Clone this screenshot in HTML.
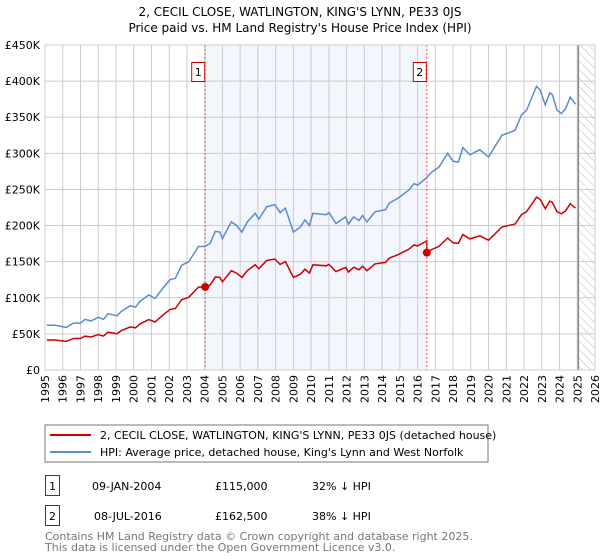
<!DOCTYPE html>
<html><head><meta charset="utf-8"><style>
body{margin:0;background:#fff;font-family:"DejaVu Sans","Liberation Sans",sans-serif;}
svg{display:block}
</style></head><body>
<svg id="chart" width="600" height="560" xmlns="http://www.w3.org/2000/svg" font-family="DejaVu Sans, Liberation Sans, sans-serif">
<text x="300" y="16" text-anchor="middle" font-size="12" fill="#000">2, CECIL CLOSE, WATLINGTON, KING'S LYNN, PE33 0JS</text>
<text x="300" y="32" text-anchor="middle" font-size="12" fill="#000">Price paid vs. HM Land Registry's House Price Index (HPI)</text>
<defs><pattern id="hatch" width="6" height="6" patternUnits="userSpaceOnUse" patternTransform="rotate(-45)"><line x1="0" y1="0" x2="0" y2="6" stroke="#bbb" stroke-width="1"/></pattern></defs>
<g id="plot"></g>
<rect x="45" y="425" width="443" height="37" fill="#fff" stroke="#777"/>
<line x1="50" y1="435" x2="91" y2="435" stroke="#cc0000" stroke-width="2"/>
<text x="100" y="439" font-size="11">2, CECIL CLOSE, WATLINGTON, KING'S LYNN, PE33 0JS (detached house)</text>
<line x1="50" y1="452" x2="91" y2="452" stroke="#5b8bd0" stroke-width="2"/>
<text x="100" y="456" font-size="11">HPI: Average price, detached house, King's Lynn and West Norfolk</text>
<g font-size="11">
<rect x="45.5" y="475.5" width="14" height="20" fill="none" stroke="#cc0000"/>
<text x="52.5" y="490" text-anchor="middle">1</text>
<text x="92" y="490">09-JAN-2004</text>
<text x="215" y="490">£115,000</text>
<text x="312" y="490">32% ↓ HPI</text>
<rect x="45.5" y="505.5" width="14" height="20" fill="none" stroke="#cc0000"/>
<text x="52.5" y="520" text-anchor="middle">2</text>
<text x="94" y="520">08-JUL-2016</text>
<text x="215" y="520">£162,500</text>
<text x="312" y="520">38% ↓ HPI</text>
</g>
<text x="45" y="540" font-size="11" fill="#777">Contains HM Land Registry data © Crown copyright and database right 2025.</text>
<text x="45" y="551" font-size="11" fill="#777">This data is licensed under the Open Government Licence v3.0.</text>
</svg>
<script>
const hpiYears=[1995.1,1995.55,1996.2,1996.6,1997.0,1997.25,1997.6,1998.0,1998.3,1998.55,1999.05,1999.3,1999.8,2000.1,2000.35,2000.85,2001.2,2001.7,2002.05,2002.35,2002.7,2003.1,2003.65,2004.0,2004.3,2004.6,2004.85,2005.0,2005.5,2005.8,2006.1,2006.4,2006.85,2007.05,2007.5,2007.95,2008.25,2008.55,2009.0,2009.4,2009.65,2009.9,2010.1,2010.85,2011.0,2011.4,2011.95,2012.1,2012.4,2012.7,2012.9,2013.15,2013.6,2014.2,2014.4,2014.9,2015.5,2015.8,2016.0,2016.45,2016.8,2017.2,2017.7,2018.0,2018.3,2018.55,2018.95,2019.5,2020.0,2020.35,2020.75,2021.3,2021.5,2021.85,2022.15,2022.7,2022.9,2023.2,2023.45,2023.6,2023.85,2024.1,2024.35,2024.6,2024.9];
const hpiValues=[62,62,59,65,65,70,68,73,70,78,75,81,89,87,95,104,99,115,125,127,145,150,171,171,175,192,191,182,205,200,191,205,217,209,226,229,218,224,191,198,208,200,217,215,218,203,212,202,212,207,214,205,219,222,231,238,249,258,256,265,274,281,300,289,288,308,298,305,295,309,325,330,332,353,360,393,388,367,384,381,360,355,362,378,368];
const saleYears=[2004.03,2016.52];
const salePrices=[115,162.5];
const yTicks=[0,50,100,150,200,250,300,350,400,450];
const yTickLabels=["£0","£50K","£100K","£150K","£200K","£250K","£300K","£350K","£400K","£450K"];
const xTicks=[1995,1996,1997,1998,1999,2000,2001,2002,2003,2004,2005,2006,2007,2008,2009,2010,2011,2012,2013,2014,2015,2016,2017,2018,2019,2020,2021,2022,2023,2024,2025,2026];

const NS="http://www.w3.org/2000/svg";
const X0=45,X1=595,Y0=370,Y1=45;
const xs=y=>X0+(y-1995)/(2026-1995)*(X1-X0);
const ys=v=>Y0-v/450*(Y0-Y1);
const g=document.getElementById('plot');
function mk(t,a){const e=document.createElementNS(NS,t);for(const k in a)e.setAttribute(k,a[k]);g.appendChild(e);return e;}
function hpiAt(y){for(let i=0;i<hpiYears.length-1;i++){if(y<=hpiYears[i+1]){const t=(y-hpiYears[i])/(hpiYears[i+1]-hpiYears[i]);return hpiValues[i]+t*(hpiValues[i+1]-hpiValues[i]);}}return hpiValues[hpiValues.length-1];}

let e=mk('rect',{x:xs(saleYears[0]),y:Y1,width:xs(saleYears[1])-xs(saleYears[0]),height:Y0-Y1,fill:'#eef2fc',opacity:0.7});


const endY=2025.06;
e=mk('rect',{x:xs(endY),y:Y1,width:X1-xs(endY),height:Y0-Y1,fill:'url(#hatch)'});


xTicks.forEach(t=>{const x=xs(t);
 let l=mk('line',{x1:x,y1:Y1,x2:x,y2:Y0,stroke:'#ccc','stroke-width':1});
 
 
 let tx=mk('text',{x:0,y:0,transform:`translate(${x+4},${Y0+5}) rotate(-90)`,'text-anchor':'end','font-size':11});
 tx.textContent=t;
 
 
});
yTicks.forEach((t,i)=>{const y=ys(t);
 let l=mk('line',{x1:X0,y1:y,x2:X1,y2:y,stroke:'#ccc','stroke-width':1});
 
 
 let tx=mk('text',{x:X0-5,y:y+4,'text-anchor':'end','font-size':11});
 tx.textContent=yTickLabels[i];
 
 
});
e=mk('line',{x1:xs(endY),y1:Y1,x2:xs(endY),y2:Y0,stroke:'#888','stroke-width':1.5});


// HPI line
let d=hpiYears.map((y,i)=>(i?'L':'M')+xs(y).toFixed(1)+','+ys(hpiValues[i]).toFixed(1)).join('');
e=mk('path',{d:d,fill:'none',stroke:'#5b8bd0','stroke-width':1.5});


// property line (HPI-indexed from sales)
const r1=salePrices[0]/hpiAt(saleYears[0]),r2=salePrices[1]/hpiAt(saleYears[1]);
let pts=[];
hpiYears.forEach((y,i)=>{if(y<saleYears[1])pts.push([y,hpiValues[i]*r1]);});
pts.push([saleYears[1],hpiAt(saleYears[1])*r1]);
pts.push([saleYears[1],salePrices[1]]);
hpiYears.forEach((y,i)=>{if(y>saleYears[1])pts.push([y,hpiValues[i]*r2]);});
d=pts.map((p,i)=>(i?'L':'M')+xs(p[0]).toFixed(1)+','+ys(p[1]).toFixed(1)).join('');
e=mk('path',{d:d,fill:'none',stroke:'#cc0000','stroke-width':1.5});


saleYears.forEach((y,i)=>{const x=xs(y);
 let l=mk('line',{x1:x,y1:Y1,x2:x,y2:Y0,stroke:'#e55','stroke-width':1,'stroke-dasharray':'2,2'});
 
 
 let c=mk('circle',{cx:x,cy:ys(salePrices[i]),r:4,fill:'#cc0000'});
 
 
 let b=mk('rect',{x:x-13.5,y:62.5,width:13,height:19,fill:'#fff',stroke:'#cc0000'});
 
 
 let t=mk('text',{x:x-7,y:76,'text-anchor':'middle','font-size':11});
 t.textContent=String(i+1);
 
 
});
e=mk('rect',{x:X0,y:Y1,width:X1-X0,height:Y0-Y1,fill:'none',stroke:'#ccc'});


</script>
</body></html>
